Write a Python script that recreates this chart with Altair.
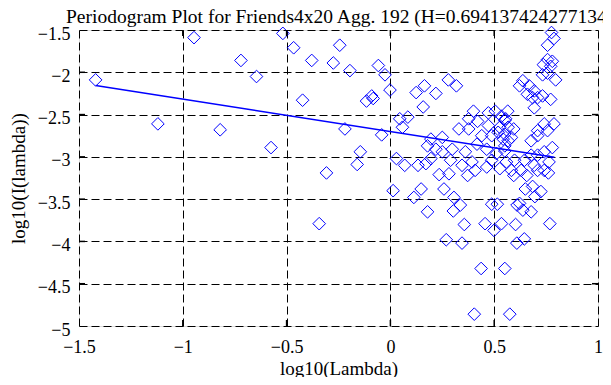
import altair as alt
import pandas as pd

# ---- data ----
pts_x = [
    -1.42, -1.12, -0.946, -0.82, -0.72, -0.645, -0.575, -0.518, -0.466, -0.423,
    -0.379, -0.343, -0.308, -0.275, -0.244, -0.219, -0.195, -0.16, -0.145, -0.115,
    -0.09, -0.083, -0.058, -0.042, -0.026, -0.002, 0.013, 0.029, 0.045, 0.058,
    0.069, 0.084, 0.113, 0.124, 0.133, 0.148, 0.158, 0.164, 0.171, 0.179,
    0.179, 0.195, 0.195, 0.219, 0.219, 0.235, 0.25, 0.25, 0.258, 0.269,
    0.279, 0.282, 0.29, 0.298, 0.303, 0.306, 0.318, 0.33, 0.337, 0.345,
    0.345, 0.356, 0.361, 0.372, 0.377, 0.377, 0.393, 0.40, 0.404, 0.408,
    0.42, 0.417, 0.437, 0.44, 0.456, 0.464, 0.464, 0.472, 0.472, 0.488,
    0.488, 0.488, 0.499, 0.505, 0.511, 0.515, 0.519, 0.527, 0.527, 0.535,
    0.535, 0.543, 0.551, 0.551, 0.551, 0.551, 0.551, 0.555, 0.559, 0.567,
    0.567, 0.565, 0.575, 0.583, 0.583, 0.594, 0.594, 0.598, 0.603, 0.609,
    0.61, 0.622, 0.622, 0.630, 0.638, 0.638, 0.645, 0.646, 0.650, 0.657,
    0.66, 0.669, 0.678, 0.678, 0.678, 0.685, 0.685, 0.693, 0.693, 0.693,
    0.696, 0.709, 0.709, 0.709, 0.709, 0.709, 0.725, 0.733, 0.733, 0.737,
    0.741, 0.741, 0.741, 0.757, 0.757, 0.757, 0.757, 0.761, 0.764, 0.768,
    0.772, 0.772, 0.776, 0.78, 0.78, 0.788, 0.788, 0.796,
]
pts_y = [
    -2.09, -2.61, -1.59, -2.68, -1.86, -2.05, -2.89, -1.54, -1.71, -2.33,
    -1.86, -3.79, -3.19, -1.89, -1.68, -2.67, -1.98, -3.09, -2.94, -2.34,
    -2.28, -2.31, -1.92, -2.74, -2.03, -2.21, -3.40, -3.02, -2.55, -2.65,
    -3.10, -2.53, -3.48, -2.24, -3.10, -3.38, -2.41, -2.16, -3.08, -3.65,
    -2.87, -3.02, -2.79, -2.25, -2.91, -3.21, -2.94, -2.77, -3.38, -3.98,
    -2.09, -3.20, -3.04, -2.91, -3.64, -3.48, -2.16, -2.67, -3.57, -3.10,
    -4.02, -3.80, -2.94, -3.22, -2.55, -2.67, -3.06, -2.46, -4.86, -3.16,
    -2.58, -2.85, -4.32, -2.75, -3.79, -2.91, -3.12, -2.48, -2.63, -2.75,
    -3.04, -3.56, -3.87, -2.46, -2.96, -3.56, -2.71, -2.65, -3.14, -2.52,
    -3.79, -2.79, -2.87, -4.32, -2.57, -2.73, -2.93, -2.55, -3.06, -2.65,
    -2.81, -2.46, -4.86, -2.77, -3.16, -3.22, -2.67, -3.04, -3.80, -4.02,
    -3.57, -3.55, -2.16, -3.16, -3.63, -2.10, -3.97, -3.04, -3.38, -3.22,
    -2.26, -2.16, -2.81, -2.98, -3.65, -2.30, -3.35, -2.22, -2.42, -3.10,
    -3.47, -2.30, -2.69, -2.75, -2.98, -3.16, -3.41, -2.03, -2.28, -1.91,
    -2.61, -2.94, -3.16, -1.68, -1.85, -2.01, -2.69, -3.19, -3.06, -3.79,
    -1.93, -2.32, -1.53, -1.87, -2.89, -1.60, -2.61, -2.09,
]

fit_x = [-1.42, 0.79]
fit_y = [-2.155, -3.005]

x_ticks = [-1.5, -1.0, -0.5, 0.0, 0.5, 1.0]
y_ticks = [-5.0, -4.5, -4.0, -3.5, -3.0, -2.5, -2.0, -1.5]
x_inner = [-1.0, -0.5, 0.0, 0.5]
y_inner = [-4.5, -4.0, -3.5, -3.0, -2.5, -2.0]

title_text = "Periodogram Plot for Friends4x20 Agg. 192 (H=0.694137424277134)"

pts = pd.DataFrame({"x": pts_x, "y": pts_y})
fit = pd.DataFrame({"x": fit_x, "y": fit_y})
xt = pd.DataFrame({"v": x_inner})
yt = pd.DataFrame({"v": y_inner})

FONT = "Liberation Serif"
W, H = 519, 296

xscale = alt.Scale(domain=[-1.5, 1.0], nice=False, zero=False)
yscale = alt.Scale(domain=[-5.0, -1.5], nice=False, zero=False)

xaxis = alt.Axis(
    values=x_ticks, format="~g", title="log10(Lambda)", grid=True,
    gridColor="black", gridDash=[8, 4], gridWidth=1, gridOpacity=1,
    ticks=False, domain=False, labelFlush=False, labelOverlap=False,
    labelFont=FONT, labelFontSize=18, labelColor="black",
    labelBaseline="alphabetic", labelPadding=26,
    titleFont=FONT, titleFontSize=19, titleFontWeight="normal", titleColor="black",
    titleBaseline="alphabetic", titleY=48,
)
yaxis = alt.Axis(
    values=y_ticks, format="~g", title="log10(I(lambda))", grid=True,
    gridColor="black", gridDash=[8, 4], gridWidth=1, gridOpacity=1,
    ticks=False, domain=False, labelFlush=False, labelOverlap=False,
    labelFont=FONT, labelFontSize=18, labelColor="black",
    labelPadding=9, labelOffset=4,
    titleFont=FONT, titleFontSize=19, titleFontWeight="normal", titleColor="black",
    titleBaseline="alphabetic", titleX=-55,
)

points = alt.Chart(pts).mark_point(
    shape="diamond", filled=False, color="#0000ff", size=160, strokeWidth=1, opacity=1
).encode(
    x=alt.X("x:Q", scale=xscale, axis=xaxis),
    y=alt.Y("y:Q", scale=yscale, axis=yaxis),
)

line = alt.Chart(fit).mark_line(color="#0000ff", strokeWidth=1.5).encode(
    x=alt.X("x:Q", scale=xscale),
    y=alt.Y("y:Q", scale=yscale),
)

tick_style = dict(color="black", size=6, thickness=1.5, opacity=1)
bottom_ticks = alt.Chart(xt).mark_tick(orient="vertical", **tick_style).encode(
    x=alt.X("v:Q", scale=xscale), y=alt.value(H - 3))
top_ticks = alt.Chart(xt).mark_tick(orient="vertical", **tick_style).encode(
    x=alt.X("v:Q", scale=xscale), y=alt.value(3))
left_ticks = alt.Chart(yt).mark_tick(orient="horizontal", **tick_style).encode(
    y=alt.Y("v:Q", scale=yscale), x=alt.value(3))
right_ticks = alt.Chart(yt).mark_tick(orient="horizontal", **tick_style).encode(
    y=alt.Y("v:Q", scale=yscale), x=alt.value(W - 3))

chart = alt.layer(
    points, line, bottom_ticks, top_ticks, left_ticks, right_ticks
).properties(
    width=W, height=H,
    title=alt.TitleParams(
        text=title_text, anchor="start", frame="group", dx=-13, dy=18.5,
        font=FONT, fontSize=19.5, fontWeight="normal", color="black",
        baseline="alphabetic", offset=0,
    ),
    autosize=alt.AutoSizeParams(type="none"),
    padding={"left": 71, "top": 22, "right": 5, "bottom": 51},
).configure_view(
    stroke="black", strokeWidth=2
).configure(background="white")

chart.save("out.html", embed_options={"renderer": "svg", "actions": False})
